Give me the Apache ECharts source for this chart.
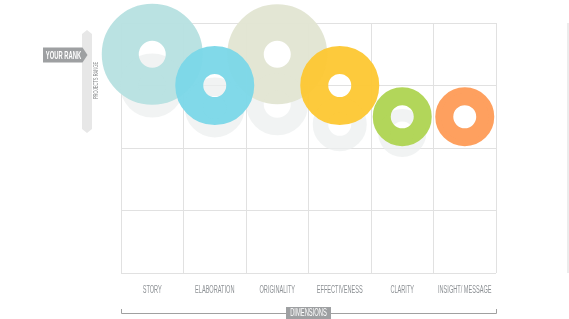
<!DOCTYPE html>
<html>
<head>
<meta charset="utf-8">
<script src="https://cdn.jsdelivr.net/npm/echarts@6/dist/echarts.min.js"></script>
<style>
html,body{margin:0;padding:0;background:#fff;}
#c{width:569px;height:319px;}
</style>
</head>
<body>
<div id="c"></div>
<script>
// ---- data ----
var categories = ['STORY', 'ELABORATION', 'ORIGINALITY', 'EFFECTIVENESS', 'CLARITY', 'INSIGHT/ MESSAGE'];
var rankValues = [0.5, 1, 0.5, 1, 1.5, 1.5];          // your rank position (row units, 0 = top)
var scoreValues = [10.1, 7.9, 10.0, 7.9, 5.9, 5.9];     // bubble size score
var holeValues = [2.7, 2.3, 2.7, 2.3, 2.3, 2.3];        // inner hole score
var rangeValues = [1.0, 1.35, 1.3, 1.62, 1.76, 1.5];    // projects range position
var rangeScores = [6.4, 6.0, 6.2, 5.4, 4.8, 4.8];       // projects range size score
var colors = ['#b7e1e1', '#7cd7e8', '#e2e5d2', '#fdc834', '#afd453', '#fe9c58'];
var yTicks = [0, 1, 2, 3, 4];

var FONT = "'Liberation Sans', 'Roboto', sans-serif";
var NARROW = 0.56; // horizontal squeeze to imitate the condensed typeface
var PX = 10; // pixels per score unit (diameter)

function ring(outerScore, innerScore) {
  var R = outerScore * PX / 2, r = innerScore * PX / 2;
  return { size: R + r, border: R - r };
}

var chart = echarts.init(document.getElementById('c'), null, { renderer: 'canvas' });

var series = [];
// projects range shadows
series.push({
  type: 'scatter',
  z: 2,
  silent: true,
  data: categories.map(function (c, i) {
    var g = ring(rangeScores[i], holeValues[i]);
    return {
      value: [i, rangeValues[i]],
      symbolSize: g.size,
      itemStyle: { color: 'rgba(0,0,0,0)', borderColor: 'rgba(236,238,238,0.9)', borderWidth: g.border }
    };
  })
});
// rank bubbles, one series per dimension
categories.forEach(function (c, i) {
  var g = ring(scoreValues[i], holeValues[i]);
  series.push({
    type: 'scatter',
    name: c,
    z: scoreValues[i] > 9 ? 3 : 4,
    silent: true,
    data: [{
      value: [i, rankValues[i]],
      symbolSize: g.size,
      itemStyle: { color: 'rgba(0,0,0,0)', borderColor: colors[i], borderWidth: g.border, opacity: 0.96 }
    }]
  });
});
// category labels (condensed look) placed through the category axis
series.push({
  type: 'custom',
  silent: true,
  z: 5,
  data: categories.map(function (c, i) { return [i, yTicks[yTicks.length - 1]]; }),
  renderItem: function (params, api) {
    var p = api.coord([api.value(0), api.value(1)]);
    return {
      type: 'text',
      x: p[0], y: p[1] + 17,
      scaleX: NARROW,
      style: { text: categories[params.dataIndex], fill: '#8d9195', font: '10px ' + FONT, align: 'center', verticalAlign: 'middle' }
    };
  }
});

var gray = '#9ea0a2';
chart.setOption({
  animation: false,
  grid: { left: 121, right: 73, top: 23, bottom: 46 },
  xAxis: {
    type: 'category',
    data: categories,
    boundaryGap: true,
    axisLine: { show: false },
    axisTick: { show: false },
    axisLabel: { show: false },
    splitLine: { show: true, interval: 0, lineStyle: { color: '#e1e1e1', width: 1 } }
  },
  yAxis: {
    type: 'value',
    min: yTicks[0],
    max: yTicks[yTicks.length - 1],
    interval: 1,
    inverse: true,
    axisLine: { show: false },
    axisTick: { show: false },
    axisLabel: { show: false },
    splitLine: { show: true, lineStyle: { color: '#e1e1e1', width: 1 } }
  },
  series: series,
  graphic: [
    // right thin line
    { type: 'rect', shape: { x: 567, y: 23, width: 2, height: 250 }, style: { fill: '#ececec' }, z: 1 },
    // projects range vertical bar
    { type: 'polygon', shape: { points: [[87, 30], [92, 34], [92, 129], [87, 133], [82, 129], [82, 34]] }, style: { fill: '#e7e7e7' }, z: 5 },
    // projects range label
    { type: 'text', x: 96.5, y: 80.5, rotation: Math.PI / 2, scaleX: 0.58, style: { text: 'PROJECTS RANGE', fill: '#8a8c8e', font: '7px ' + FONT, align: 'center', verticalAlign: 'middle' }, z: 6 },
    // your rank tag
    { type: 'polygon', shape: { points: [[43, 47.5], [82.5, 47.5], [87.5, 55], [82.5, 62.5], [43, 62.5]] }, style: { fill: gray }, z: 7 },
    { type: 'text', x: 63.5, y: 55.5, scaleX: 0.53, style: { text: 'YOUR RANK', fill: '#ffffff', font: 'bold 11px ' + FONT, align: 'center', verticalAlign: 'middle' }, z: 8 },
    // dimensions bracket
    { type: 'polyline', shape: { points: [[121.5, 309], [121.5, 313.5], [496.5, 313.5], [496.5, 309]] }, style: { stroke: '#a0a0a0', lineWidth: 1, fill: null }, z: 5 },
    { type: 'rect', shape: { x: 286, y: 307, width: 45, height: 13 }, style: { fill: gray }, z: 6 },
    { type: 'text', x: 308.5, y: 313.5, scaleX: 0.58, style: { text: 'DIMENSIONS', fill: '#ffffff', font: '10px ' + FONT, align: 'center', verticalAlign: 'middle' }, z: 7 }
  ]
});
</script>
</body>
</html>
